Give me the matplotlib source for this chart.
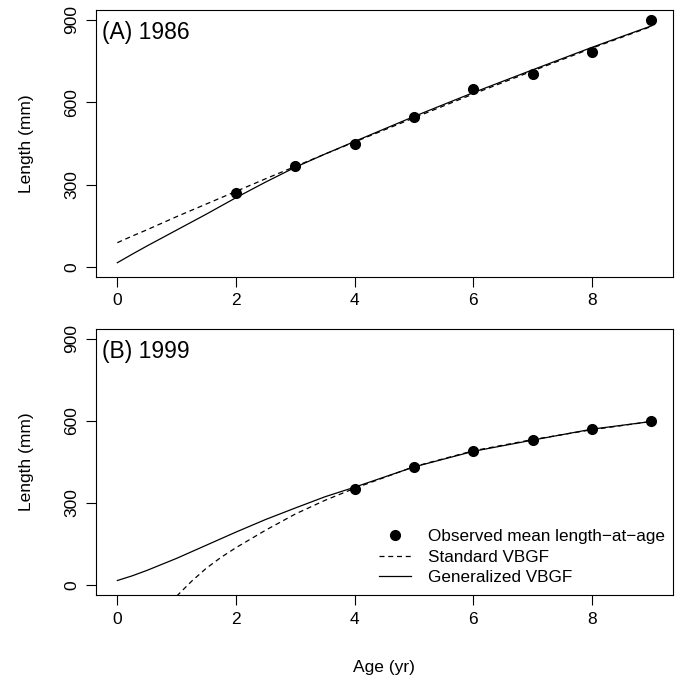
import numpy as np
import matplotlib.pyplot as plt

plt.rcParams['font.family'] = ['Liberation Sans', 'DejaVu Sans']

# observed mean length-at-age
obs_age_a = [2, 3, 4, 5, 6, 7, 8, 9]
obs_len_a = [268, 368, 447, 547, 647, 702, 782, 900]
obs_age_b = [4, 5, 6, 7, 8, 9]
obs_len_b = [350, 432, 491, 532, 570, 601]

# fitted curves
curve_age = [0, 0.25, 0.5, 1, 1.5, 2, 2.5, 3, 3.5, 4, 5, 6, 7, 8, 9]
std_a = [88, 112, 135, 183, 229, 275, 321, 366, 411, 455, 543, 630, 714, 797, 876]
gen_a = [15, 46, 76, 134, 192, 252, 309, 363, 411, 457, 548, 635, 718, 800, 878]

std_age_b = [1.0, 1.25, 1.5, 1.75, 2, 2.5, 3, 3.5, 4, 5, 6, 7, 8, 9]
std_b = [-40, 14, 62, 102, 137, 201, 260, 310, 354, 433, 491, 532, 568, 598]
gen_b = [17, 34, 54, 98, 146, 194, 240, 282, 323, 358, 432, 489, 530, 570, 598]

fig = plt.figure(figsize=(6.77, 6.80), dpi=100)
ax_a = fig.add_axes([0.1418, 0.5931, 0.8519, 0.3922])
ax_b = fig.add_axes([0.1418, 0.1250, 0.8519, 0.3912])


def style(ax):
    ax.set_xlim(-0.36, 9.36)
    ax.set_ylim(-36, 936)
    ax.set_xticks([0, 2, 4, 6, 8])
    ax.set_yticks([0, 300, 600, 900])
    ax.tick_params(direction='out', length=7, width=0.8, labelsize=12.5, pad=5)
    for lab in ax.get_yticklabels():
        lab.set_rotation(90)
        lab.set_va('center')
    for s in ax.spines.values():
        s.set_linewidth(0.8)
    ax.set_ylabel('Length (mm)', fontsize=12.5, labelpad=22)


style(ax_a)
ax_a.plot(curve_age, std_a, color='black', lw=0.9, ls=(0, (4, 3)))
ax_a.plot(curve_age, gen_a, color='black', lw=0.9)
ax_a.plot(obs_age_a, obs_len_a, 'o', color='black', ms=7)
ax_a.text(0.01, 0.96, '(A) 1986', transform=ax_a.transAxes, fontsize=16.5,
          ha='left', va='top')

style(ax_b)
ax_b.plot(obs_age_b, obs_len_b, 'o', color='black', ms=7,
          label='Observed mean length\u2212at\u2212age')
ax_b.plot(std_age_b, std_b, color='black', lw=0.9, ls=(0, (4, 3)),
          label='Standard VBGF')
ax_b.plot(curve_age, gen_b, color='black', lw=0.9, label='Generalized VBGF')
ax_b.text(0.01, 0.96, '(B) 1999', transform=ax_b.transAxes, fontsize=16.5,
          ha='left', va='top')
ax_b.set_xlabel('Age (yr)', fontsize=12.5, labelpad=24)
ax_b.legend(loc='lower right', bbox_to_anchor=(1.004, 0.0), frameon=False,
            fontsize=12.3, handlelength=1.9, handletextpad=1.0,
            labelspacing=0.32, borderaxespad=0.17)

fig.savefig('out.png', dpi=100)
